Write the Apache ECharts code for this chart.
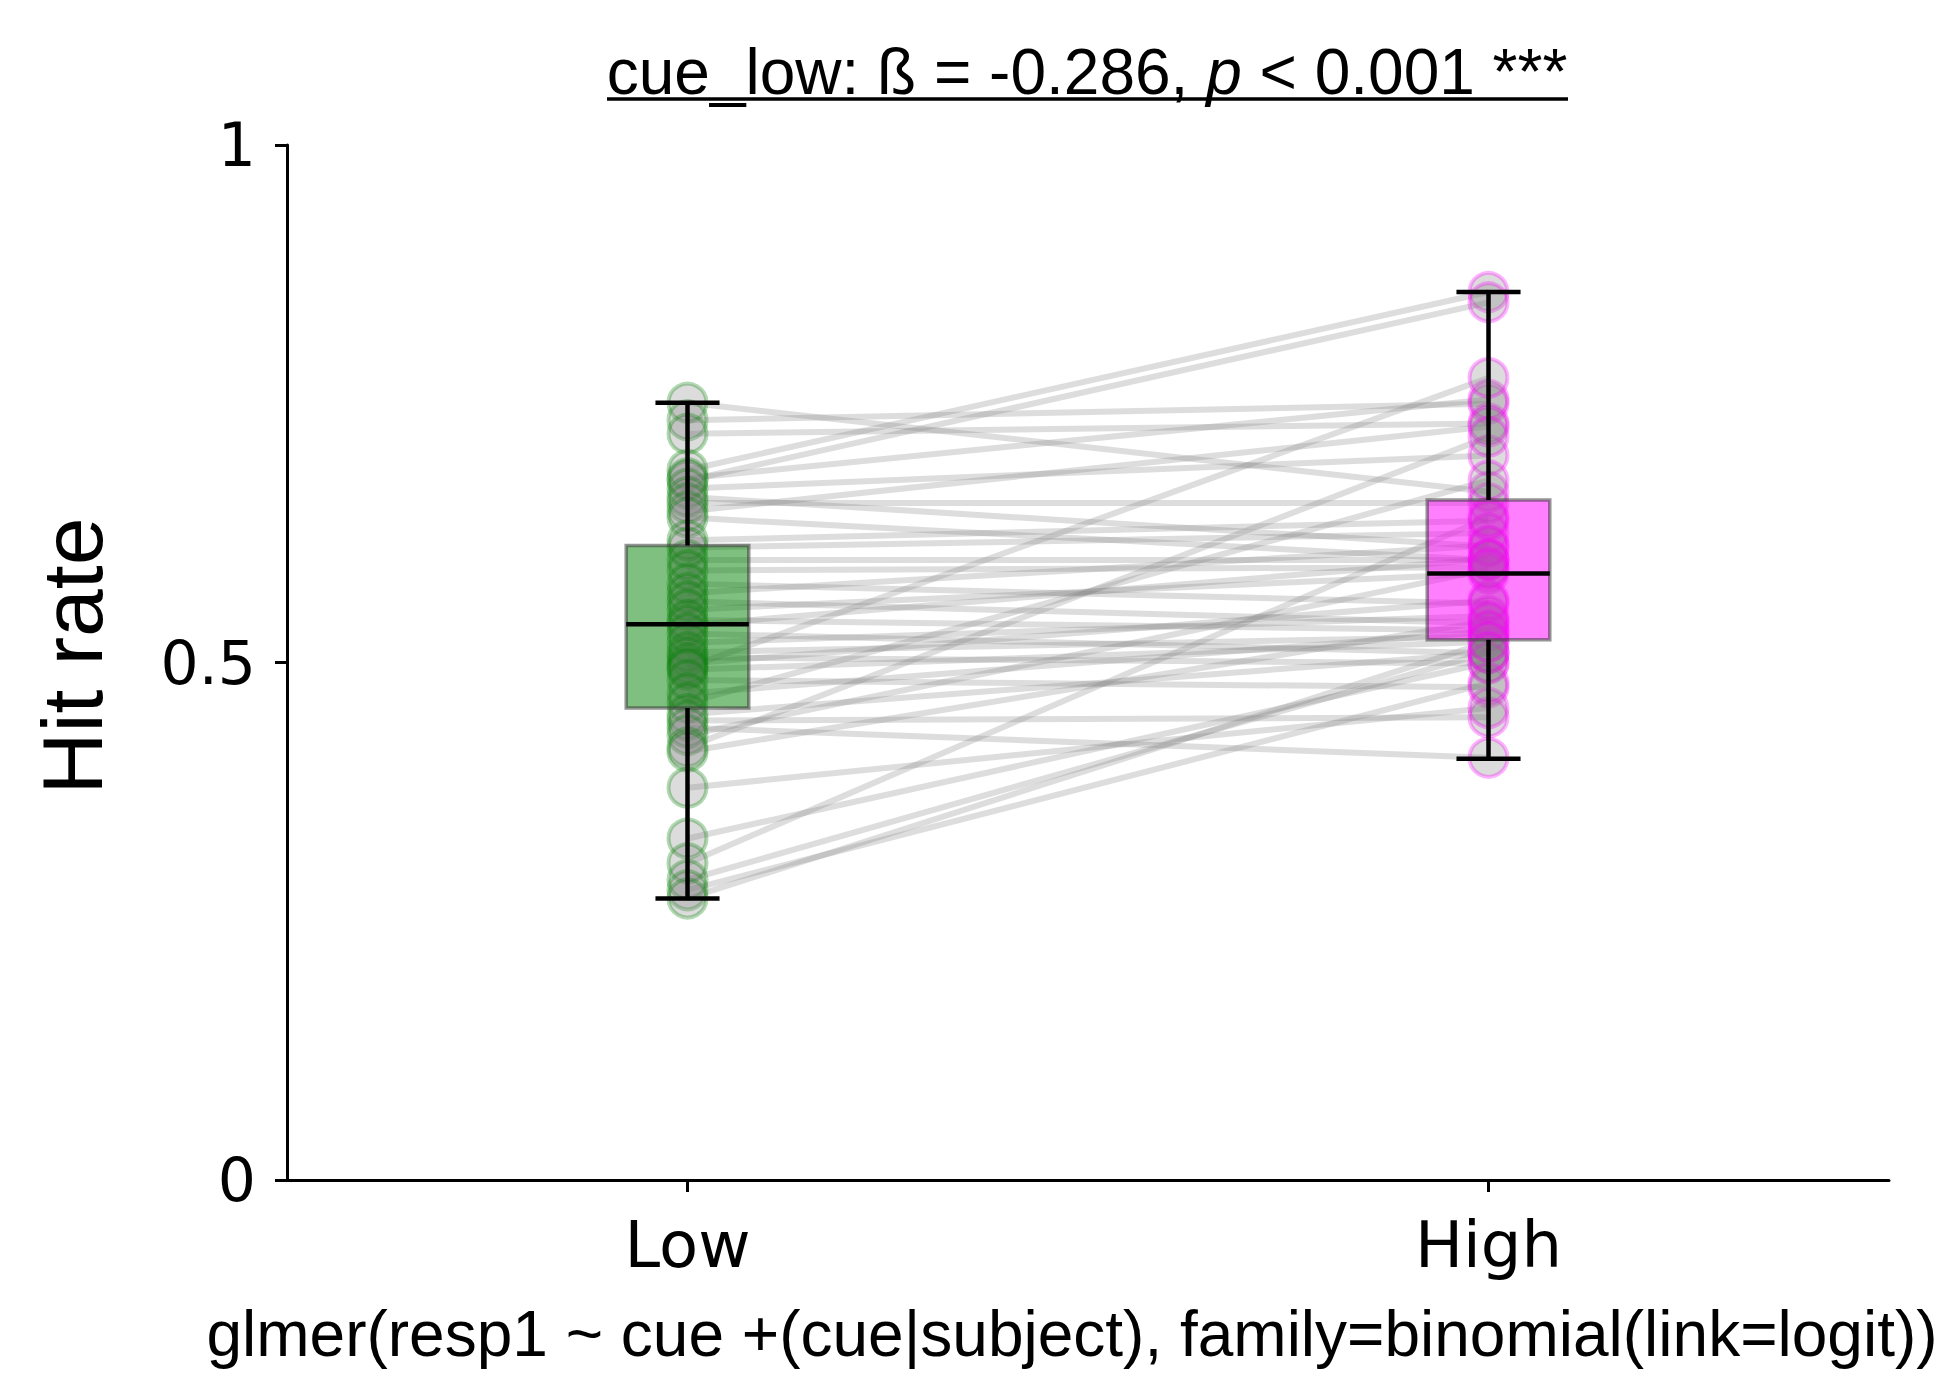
<!DOCTYPE html>
<html>
<head>
<meta charset="utf-8">
<script src="https://cdn.jsdelivr.net/npm/echarts@6/dist/echarts.min.js"></script>
<style>html,body{margin:0;padding:0;background:#fff;}#c{width:1942px;height:1384px;}</style>
</head>
<body>
<div id="c"></div>
<script>
// ---- data ----
var categories = ['Low', 'High'];
var yTicks = [0, 0.5, 1];
// per-subject hit rates (paired by index)
var lowRates = [0.751, 0.734, 0.721, 0.686, 0.676, 0.678, 0.668, 0.660, 0.654, 0.646,
                0.640, 0.618, 0.611, 0.599, 0.589, 0.576, 0.567, 0.559, 0.551, 0.541,
                0.536, 0.528, 0.519, 0.510, 0.505, 0.499, 0.495, 0.493, 0.483, 0.470,
                0.461, 0.450, 0.444, 0.437, 0.430, 0.418, 0.414, 0.379, 0.330, 0.306,
                0.290, 0.280, 0.272];
var highRates = [0.665, 0.750, 0.731, 0.858, 0.848, 0.754, 0.700, 0.612, 0.654, 0.728,
                 0.599, 0.637, 0.625, 0.599, 0.592, 0.557, 0.613, 0.538, 0.586, 0.531,
                 0.600, 0.509, 0.545, 0.525, 0.499, 0.560, 0.775, 0.520, 0.476, 0.530,
                 0.676, 0.509, 0.447, 0.408, 0.590, 0.718, 0.540, 0.456, 0.500, 0.640,
                 0.510, 0.480, 0.520];
// box statistics: [min, q1, median, q3, max]
var lowBox = [0.272, 0.456, 0.537, 0.613, 0.751];
var highBox = [0.407, 0.522, 0.586, 0.657, 0.858];
var titleText = ['cue_low: ß = -0.286, ', 'p', ' < 0.001 ***'];
var yAxisTitle = 'Hit rate';
var footText = 'glmer(resp1 ~ cue +(cue|subject), family=binomial(link=logit))';

// ---- chart ----
var chart = echarts.init(document.getElementById('c'), null, {renderer: 'svg'});
var SANS = '"Liberation Sans", Arial, sans-serif';
var DJ = '"DejaVu Sans", sans-serif';

var pairRows = lowRates.map(function (v, i) { return [0, v, highRates[i]]; });
var boxRows = [[0].concat(lowBox), [1].concat(highBox)];
var boxFill = ['rgba(0,128,0,0.5)', 'rgba(255,0,255,0.5)'];

var option = {
  backgroundColor: '#ffffff',
  animation: false,
  title: [{
    left: 1087, top: 40, textAlign: 'center', padding: 0,
    text: '{a|' + titleText[0] + '}{i|' + titleText[1] + '}{a|' + titleText[2] + '}',
    textStyle: {
      fontWeight: 'normal',
      rich: {
        a: {fontFamily: SANS, fontSize: 64, fontWeight: 'normal', color: '#000', lineHeight: 64},
        i: {fontFamily: SANS, fontSize: 64, fontWeight: 'normal', color: '#000', fontStyle: 'italic', lineHeight: 64}
      }
    }
  }, {
    left: 1072, top: 1302, textAlign: 'center', padding: 0,
    text: footText,
    textStyle: {fontFamily: SANS, fontSize: 64, fontWeight: 'normal', color: '#000', lineHeight: 64}
  }],
  graphic: [{
    type: 'line', shape: {x1: 607, y1: 99, x2: 1568, y2: 99},
    style: {stroke: '#000', lineWidth: 3.5}
  }, {
    type: 'text', x: 72, y: 656, rotation: Math.PI / 2,
    style: {text: yAxisTitle, fontFamily: SANS, fontSize: 86, fill: '#000', align: 'center', verticalAlign: 'middle'}
  }],
  grid: {left: 287, right: 53, top: 145, bottom: 204, containLabel: false},
  xAxis: {
    type: 'category', data: categories, boundaryGap: true,
    axisLine: {show: true, lineStyle: {color: '#000', width: 3}},
    axisTick: {show: true, alignWithLabel: true, length: 12, lineStyle: {color: '#000', width: 3}},
    axisLabel: {fontFamily: DJ, fontSize: 64, color: '#000', margin: 33},
    splitLine: {show: false}
  },
  yAxis: {
    type: 'value', min: yTicks[0], max: yTicks[yTicks.length - 1], interval: yTicks[1] - yTicks[0],
    axisLine: {show: true, lineStyle: {color: '#000', width: 3}},
    axisTick: {show: true, length: 12, lineStyle: {color: '#000', width: 3}},
    axisLabel: {fontFamily: DJ, fontSize: 60, color: '#000', margin: 31},
    splitLine: {show: false}
  },
  series: [{
    type: 'custom', name: 'pairs', z: 1,
    data: pairRows, encode: {x: 0, y: [1, 2]},
    renderItem: function (params, api) {
      var p0 = api.coord([0, api.value(1)]);
      var p1 = api.coord([1, api.value(2)]);
      return {type: 'line', shape: {x1: p0[0], y1: p0[1], x2: p1[0], y2: p1[1]},
        style: {stroke: 'rgba(128,128,128,0.27)', lineWidth: 6}};
    }
  }, {
    type: 'scatter', name: 'Low', z: 2,
    data: lowRates.map(function (v) { return [0, v]; }),
    symbolSize: 38,
    itemStyle: {color: 'rgba(128,128,128,0.28)', borderColor: 'rgba(0,128,0,0.3)', borderWidth: 4, opacity: 1}
  }, {
    type: 'scatter', name: 'High', z: 2,
    data: highRates.map(function (v) { return [1, v]; }),
    symbolSize: 38,
    itemStyle: {color: 'rgba(128,128,128,0.28)', borderColor: 'rgba(255,0,255,0.3)', borderWidth: 4, opacity: 1}
  }, {
    type: 'custom', name: 'box', z: 3,
    data: boxRows, encode: {x: 0, y: [1, 2, 3, 4, 5]},
    renderItem: function (params, api) {
      var xi = api.value(0);
      var lo = api.coord([xi, api.value(1)]);
      var q1 = api.coord([xi, api.value(2)]);
      var md = api.coord([xi, api.value(3)]);
      var q3 = api.coord([xi, api.value(4)]);
      var hi = api.coord([xi, api.value(5)]);
      var band = api.size([1, 0])[0];
      var hw = band * 0.0765, cw = band * 0.04;
      var cx = lo[0];
      var blk = {stroke: '#000', lineWidth: 4.5};
      return {type: 'group', children: [
        {type: 'rect', shape: {x: cx - hw, y: q3[1], width: 2 * hw, height: q1[1] - q3[1]},
          style: {fill: boxFill[params.dataIndex], stroke: 'rgba(60,60,60,0.55)', lineWidth: 3.5}},
        {type: 'line', shape: {x1: cx, y1: q3[1], x2: cx, y2: hi[1]}, style: blk},
        {type: 'line', shape: {x1: cx, y1: q1[1], x2: cx, y2: lo[1]}, style: blk},
        {type: 'line', shape: {x1: cx - cw, y1: hi[1], x2: cx + cw, y2: hi[1]}, style: blk},
        {type: 'line', shape: {x1: cx - cw, y1: lo[1], x2: cx + cw, y2: lo[1]}, style: blk},
        {type: 'line', shape: {x1: cx - hw, y1: md[1], x2: cx + hw, y2: md[1]}, style: {stroke: '#000', lineWidth: 4.5}}
      ]};
    }
  }]
};
chart.setOption(option);
</script>
</body>
</html>
